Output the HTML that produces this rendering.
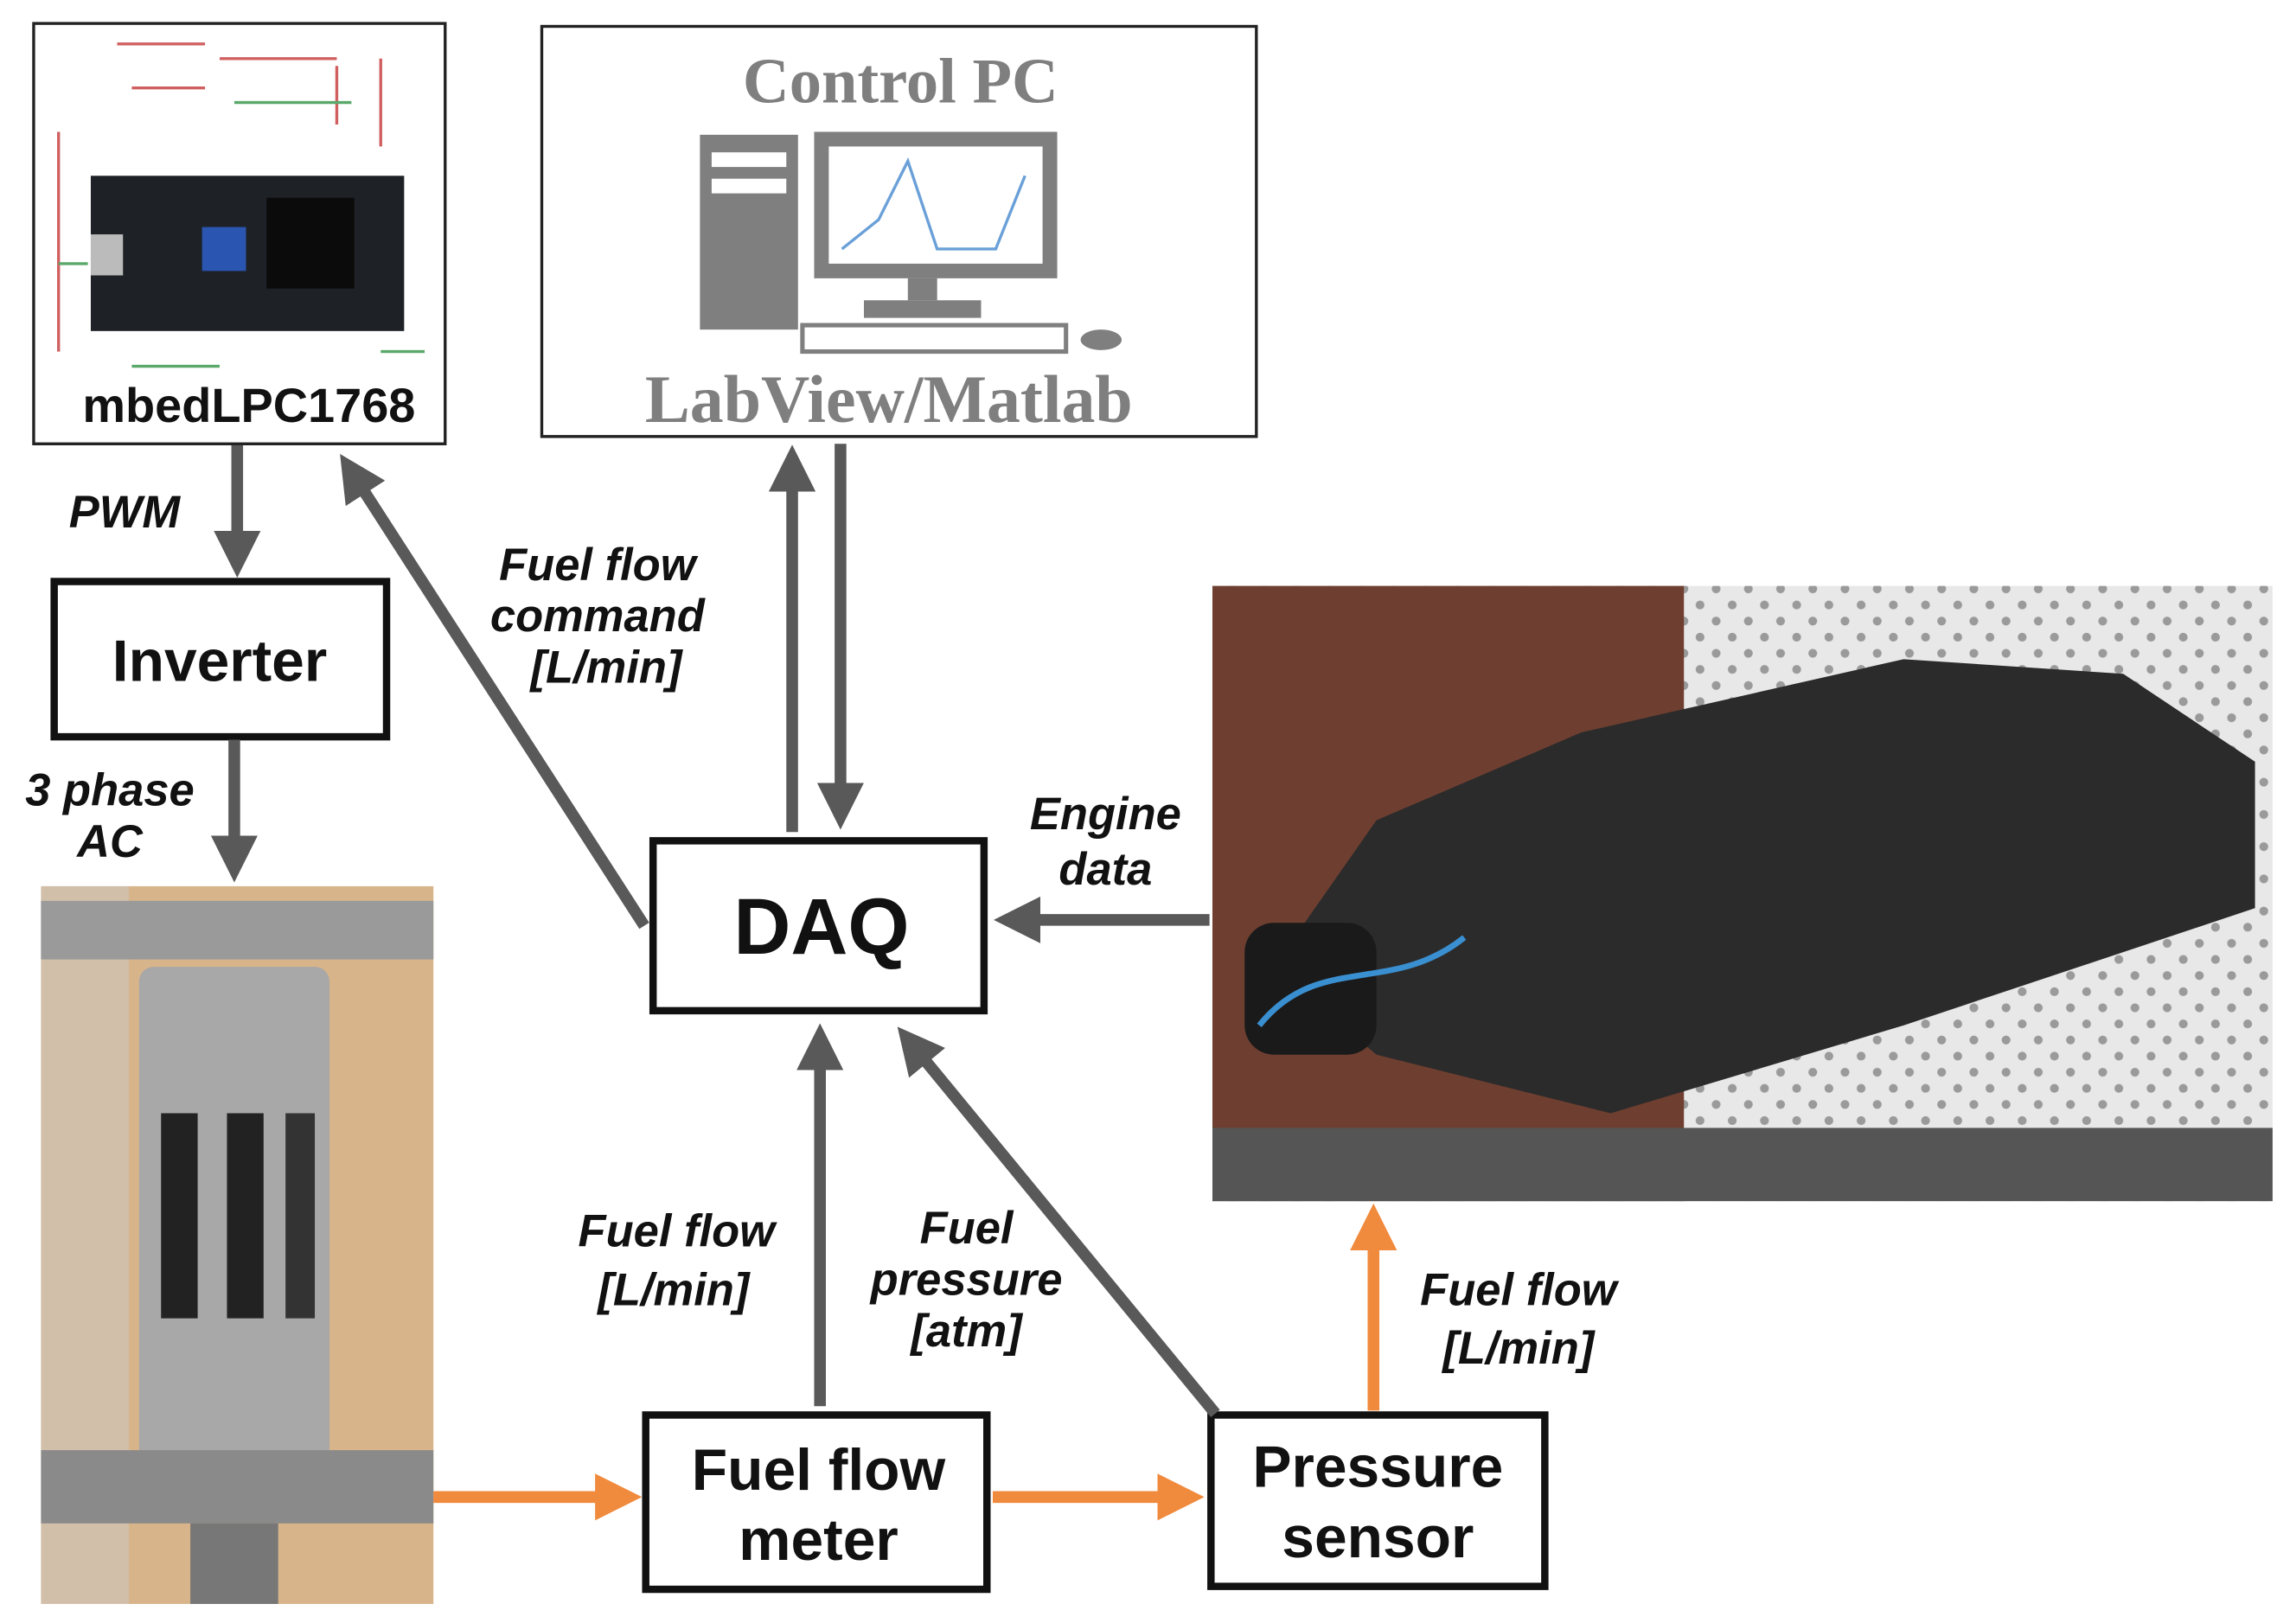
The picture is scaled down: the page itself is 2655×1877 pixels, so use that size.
<!DOCTYPE html>
<html><head><meta charset="utf-8"><style>
html,body{margin:0;padding:0;background:#fff;}
svg{display:block;}
.l{font-family:"Liberation Sans",sans-serif;font-weight:bold;font-style:italic;fill:#111;}
.b{font-family:"Liberation Sans",sans-serif;font-weight:bold;fill:#111;}
</style></head><body>
<svg width="2655" height="1877" viewBox="0 0 1568 1108" preserveAspectRatio="none" xmlns="http://www.w3.org/2000/svg">
<defs>
<marker id="g" markerWidth="4" markerHeight="4" refX="2.2" refY="2" orient="auto" markerUnits="strokeWidth"><path d="M0,0 L4,2 L0,4 z" fill="#595959"/></marker>
<marker id="o" markerWidth="4" markerHeight="4" refX="2.2" refY="2" orient="auto" markerUnits="strokeWidth"><path d="M0,0 L4,2 L0,4 z" fill="#f08a3c"/></marker>
<pattern id="tile" width="22" height="22" patternUnits="userSpaceOnUse"><rect width="22" height="22" fill="#e8e8e8"/><circle cx="6" cy="6" r="3" fill="#9a9a9a"/><circle cx="17" cy="17" r="3" fill="#9a9a9a"/></pattern>
</defs>

<!-- mbed box -->
<rect x="23" y="16" width="281" height="287" fill="#fff" stroke="#222" stroke-width="2"/>
<g stroke="#d06060" stroke-width="2" fill="none">
<path d="M80,30 h60 M150,40 h80 M90,60 h50 M230,45 v40 M260,40 v60 M40,90 v150"/>
</g>
<g stroke="#5aa86a" stroke-width="2" fill="none"><path d="M160,70 h80 M40,180 h20 M260,240 h30 M90,250 h60"/></g>
<rect x="62" y="120" width="214" height="106" fill="#1e2226"/>
<rect x="182" y="135" width="60" height="62" fill="#0b0b0b"/>
<rect x="138" y="155" width="30" height="30" fill="#2a55b0"/>
<rect x="62" y="160" width="22" height="28" fill="#bbb"/>
<text x="170" y="288" class="b" font-size="33" text-anchor="middle">mbedLPC1768</text>

<!-- Control PC -->
<rect x="370" y="18" width="488" height="280" fill="#fff" stroke="#222" stroke-width="2"/>
<text x="615" y="70" font-family="Liberation Serif,serif" font-weight="bold" font-size="44" fill="#7f7f7f" text-anchor="middle">Control PC</text>
<rect x="478" y="92" width="67" height="133" fill="#7f7f7f"/>
<rect x="486" y="104" width="51" height="10" fill="#fff"/><rect x="486" y="122" width="51" height="10" fill="#fff"/>
<rect x="556" y="90" width="166" height="100" fill="#7f7f7f"/>
<rect x="566" y="100" width="146" height="80" fill="#fff"/>
<path d="M575,170 L600,150 L620,110 L640,170 L680,170 L700,120" stroke="#6aa0d8" stroke-width="2" fill="none"/>
<rect x="620" y="190" width="20" height="15" fill="#7f7f7f"/>
<rect x="590" y="205" width="80" height="12" fill="#7f7f7f"/>
<rect x="548" y="222" width="180" height="18" fill="#fff" stroke="#7f7f7f" stroke-width="3"/>
<ellipse cx="752" cy="232" rx="14" ry="7" fill="#7f7f7f"/>
<text x="607" y="288" font-family="Liberation Serif,serif" font-weight="bold" font-size="46" fill="#7f7f7f" text-anchor="middle">LabView/Matlab</text>

<!-- Boxes -->
<rect x="37" y="397" width="227" height="106" fill="#fff" stroke="#111" stroke-width="5"/>
<text x="150" y="465" class="b" font-size="40" text-anchor="middle">Inverter</text>
<rect x="446" y="574" width="226" height="116" fill="#fff" stroke="#111" stroke-width="5"/>
<text x="561" y="651" class="b" font-size="54" text-anchor="middle">DAQ</text>
<rect x="441" y="966" width="233" height="119" fill="#fff" stroke="#111" stroke-width="5"/>
<text x="559" y="1017" class="b" font-size="40" text-anchor="middle">Fuel flow</text>
<text x="559" y="1065" class="b" font-size="40" text-anchor="middle">meter</text>
<rect x="827" y="966" width="228" height="117" fill="#fff" stroke="#111" stroke-width="5"/>
<text x="941" y="1015" class="b" font-size="40" text-anchor="middle">Pressure</text>
<text x="941" y="1063" class="b" font-size="40" text-anchor="middle">sensor</text>

<!-- Pump photo -->
<rect x="28" y="605" width="268" height="490" fill="#d8b48a"/>
<rect x="28" y="605" width="60" height="490" fill="#c9c9c9" opacity="0.5"/>
<rect x="28" y="615" width="268" height="40" fill="#9a9a9a"/>
<rect x="95" y="660" width="130" height="340" rx="10" fill="#a8a8a8"/>
<rect x="110" y="760" width="25" height="140" fill="#222"/><rect x="155" y="760" width="25" height="140" fill="#222"/><rect x="195" y="760" width="20" height="140" fill="#333"/>
<rect x="28" y="990" width="268" height="50" fill="#8a8a8a"/>
<rect x="130" y="1040" width="60" height="55" fill="#777"/>

<!-- Engine photo -->
<rect x="828" y="400" width="724" height="420" fill="url(#tile)"/>
<rect x="828" y="400" width="322" height="420" fill="#6e3f30"/>
<path d="M870,660 L940,560 L1080,500 L1300,450 L1450,460 L1540,520 L1540,620 L1300,700 L1100,760 L940,720 Z" fill="#2b2b2b"/>
<rect x="850" y="630" width="90" height="90" rx="20" fill="#1a1a1a"/>
<rect x="828" y="770" width="724" height="50" fill="#555"/>
<path d="M860,700 C900,650 950,680 1000,640" stroke="#3a8fd0" stroke-width="4" fill="none"/>

<!-- Gray arrows -->
<g stroke="#595959" stroke-width="8" fill="none">
<line x1="162" y1="304" x2="162" y2="380" marker-end="url(#g)"/>
<line x1="160" y1="505" x2="160" y2="588" marker-end="url(#g)"/>
<line x1="440" y1="632" x2="240" y2="322" marker-end="url(#g)"/>
<line x1="541" y1="568" x2="541" y2="318" marker-end="url(#g)"/>
<line x1="574" y1="303" x2="574" y2="552" marker-end="url(#g)"/>
<line x1="826" y1="628" x2="693" y2="628" marker-end="url(#g)"/>
<line x1="560" y1="960" x2="560" y2="713" marker-end="url(#g)"/>
<line x1="830" y1="965" x2="622" y2="712" marker-end="url(#g)"/>
</g>
<g stroke="#f08a3c" stroke-width="8" fill="none">
<line x1="296" y1="1022" x2="424" y2="1022" marker-end="url(#o)"/>
<line x1="678" y1="1022" x2="808" y2="1022" marker-end="url(#o)"/>
<line x1="938" y1="963" x2="938" y2="836" marker-end="url(#o)"/>
</g>

<!-- Labels -->
<text x="85" y="360" class="l" font-size="31" text-anchor="middle">PWM</text>
<text x="75" y="550" class="l" font-size="31" text-anchor="middle">3 phase</text>
<text x="75" y="585" class="l" font-size="31" text-anchor="middle">AC</text>
<text x="408" y="396" class="l" font-size="31" text-anchor="middle">Fuel flow</text>
<text x="408" y="431" class="l" font-size="31" text-anchor="middle">command</text>
<text x="414" y="466" class="l" font-size="31" text-anchor="middle">[L/min]</text>
<text x="755" y="566" class="l" font-size="31" text-anchor="middle">Engine</text>
<text x="755" y="604" class="l" font-size="31" text-anchor="middle">data</text>
<text x="462" y="851" class="l" font-size="31" text-anchor="middle">Fuel flow</text>
<text x="460" y="891" class="l" font-size="31" text-anchor="middle">[L/min]</text>
<text x="660" y="849" class="l" font-size="31" text-anchor="middle">Fuel</text>
<text x="660" y="884" class="l" font-size="31" text-anchor="middle">pressure</text>
<text x="660" y="919" class="l" font-size="31" text-anchor="middle">[atm]</text>
<text x="1037" y="891" class="l" font-size="31" text-anchor="middle">Fuel flow</text>
<text x="1037" y="931" class="l" font-size="31" text-anchor="middle">[L/min]</text>
</svg>
</body></html>
